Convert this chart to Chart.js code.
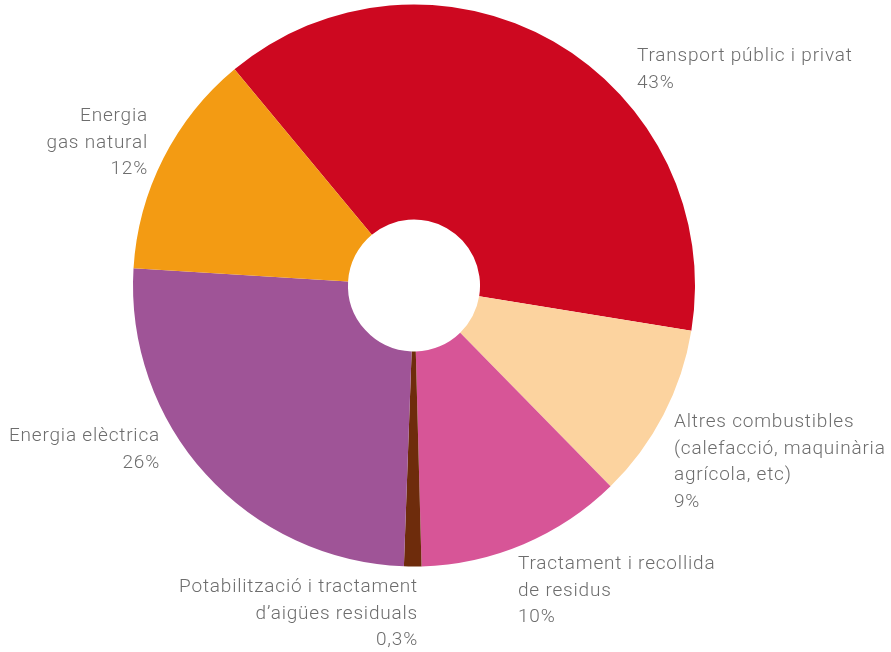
<!DOCTYPE html>
<html>
<head>
<meta charset="utf-8">
<script src="https://cdn.jsdelivr.net/npm/chart.js@4"></script>
<style>
  html, body { margin: 0; padding: 0; background: #ffffff; }
  #wrap { width: 891px; height: 652px; position: relative; }
</style>
</head>
<body>
<div id="wrap"><canvas id="myChart" width="891" height="652"></canvas></div>
<script>
// categories and values (slice sizes, labels as printed)
const categories = [
  'Transport públic i privat',
  'Altres combustibles',
  'Tractament i recollida de residus',
  'Potabilització i tractament d\u2019aigües residuals',
  'Energia elèctrica',
  'Energia gas natural'
];
const sliceValues = [38.6, 10.1, 11.9, 1.0, 25.4, 13.0];
const printedPercent = ['43%', '9%', '10%', '0,3%', '26%', '12%'];
const labelLines = [
  ['Transport públic i privat'],
  ['Altres combustibles', '(calefacció, maquinària', 'agrícola, etc)'],
  ['Tractament i recollida', 'de residus'],
  ['Potabilització i tractament', 'd\u2019aigües residuals'],
  ['Energia elèctrica'],
  ['Energia', 'gas natural']
];
const colors = ['#cd0820', '#fcd39f', '#d75597', '#6e2c0c', '#9f5497', '#f39b13'];

// label placement relative to the pie centre (dx, dy of first line, alignment)
const labelPos = [
  {dx: 223, dy: -229, align: 'left'},
  {dx: 260, dy: 137, align: 'left'},
  {dx: 104, dy: 279, align: 'left'},
  {dx: 4, dy: 302, align: 'right'},
  {dx: -254, dy: 151, align: 'right'},
  {dx: -266, dy: -169, align: 'right'}
];

const sideLabels = {
  id: 'sideLabels',
  afterDraw(chart) {
    const ctx = chart.ctx;
    const arc = chart.getDatasetMeta(0).data[0];
    const cx = arc.x, cy = arc.y;
    ctx.save();
    ctx.font = '300 19px Roboto';
    ctx.letterSpacing = '0.8px';
    ctx.fillStyle = '#6d6d6d';
    ctx.textBaseline = 'middle';
    labelPos.forEach(function(p, i) {
      const lines = labelLines[i].concat([printedPercent[i]]);
      ctx.textAlign = p.align;
      lines.forEach(function(t, j) {
        ctx.fillText(t, cx + p.dx, cy + p.dy + j * 26.5);
      });
    });
    ctx.restore();
  }
};

const ctx = document.getElementById('myChart').getContext('2d');
new Chart(ctx, {
  type: 'doughnut',
  data: {
    labels: categories,
    datasets: [{
      data: sliceValues,
      backgroundColor: colors,
      borderWidth: 0
    }]
  },
  options: {
    responsive: false,
    animation: false,
    cutout: '23.5%',
    rotation: -39.7,
    layout: { padding: { top: 4.5, bottom: 85.5, left: 133, right: 196 } },
    plugins: {
      legend: { display: false },
      tooltip: { enabled: false }
    }
  },
  plugins: [sideLabels]
});
</script>
</body>
</html>
